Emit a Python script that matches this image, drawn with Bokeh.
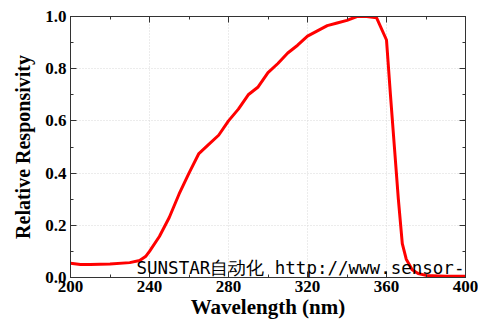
from bokeh.plotting import figure
from bokeh.models import (LinearAxis, Label, Range1d, SingleIntervalTicker,
                          PrintfTickFormatter, CustomJSTickFormatter)
from bokeh.embed import file_html
from bokeh.resources import INLINE

wavelength = [200, 205, 210, 220, 230, 235, 238, 240, 245, 250, 255, 260, 265, 270, 275,
              280, 285, 290, 295, 300, 305, 310, 315, 320, 325, 330, 335, 340, 345, 350,
              355, 360, 362, 364, 366, 368, 370, 373, 376, 380, 390, 400]
responsivity = [0.055, 0.05, 0.05, 0.052, 0.057, 0.065, 0.08, 0.10, 0.157, 0.23, 0.32, 0.40,
                0.475, 0.51, 0.545, 0.60, 0.645, 0.70, 0.73, 0.785, 0.82, 0.86, 0.89, 0.925,
                0.945, 0.965, 0.975, 0.985, 1.0, 1.0, 0.995, 0.91, 0.70, 0.50, 0.30, 0.13,
                0.07, 0.03, 0.015, 0.008, 0.005, 0.005]
x_label = "Wavelength (nm)"
y_label = "Relative Responsivity"
watermark = "SUNSTAR自动化 http://www.sensor-"

FONT = "Liberation Serif"

p = figure(width=478, height=323, output_backend="svg", toolbar_location=None,
           x_range=Range1d(200, 400), y_range=Range1d(0, 1.0),
           min_border_left=70, min_border_right=13, min_border_top=16, min_border_bottom=46)
p.background_fill_color = "white"
p.outline_line_color = "#333333"

p.line(wavelength, responsivity, line_color="#ff0000", line_width=3)

def style(ax, labels=True):
    ax.major_tick_in = 6
    ax.major_tick_out = 0
    ax.minor_tick_in = 3
    ax.minor_tick_out = 0
    ax.axis_line_color = "#333333"
    ax.major_tick_line_color = "#333333"
    ax.minor_tick_line_color = "#333333"
    if labels:
        ax.major_label_text_font = FONT
        ax.major_label_text_font_style = "bold"
        ax.major_label_text_font_size = "17px"
        ax.major_label_text_color = "black"
        ax.axis_label_text_font = FONT
        ax.axis_label_text_font_style = "bold"
        ax.axis_label_text_color = "black"
    else:
        ax.formatter = CustomJSTickFormatter(code="return '';")
        ax.major_label_standoff = 0

xt = SingleIntervalTicker(interval=40, num_minor_ticks=2)
yt = SingleIntervalTicker(interval=0.2, num_minor_ticks=2)
p.xaxis.ticker = xt
p.yaxis.ticker = yt
style(p.xaxis[0])
style(p.yaxis[0])
p.xaxis.axis_label = x_label
p.yaxis.axis_label = y_label
p.xaxis.axis_label_text_font_size = "21px"
p.yaxis.axis_label_text_font_size = "20px"
p.xaxis.major_label_standoff = 3
p.yaxis.major_label_standoff = 4
p.xaxis.axis_label_standoff = 0
p.yaxis.axis_label_standoff = 8
p.yaxis.formatter = PrintfTickFormatter(format="%.1f")

top = LinearAxis(ticker=SingleIntervalTicker(interval=40, num_minor_ticks=2))
right = LinearAxis(ticker=SingleIntervalTicker(interval=0.2, num_minor_ticks=2))
style(top, labels=False)
style(right, labels=False)
p.add_layout(top, "above")
p.add_layout(right, "right")

p.xgrid.ticker = xt
p.ygrid.ticker = yt
p.grid.grid_line_color = "#d8d8d8"
p.grid.grid_line_dash = "1 2"
p.grid.grid_line_width = 1

p.add_layout(Label(x=66, y=0, x_units="screen", y_units="screen", text=watermark,
                   text_font="DejaVu Sans Mono", text_font_size="17.5px", text_color="black"))

open("out.html", "w").write(file_html(p, INLINE))
